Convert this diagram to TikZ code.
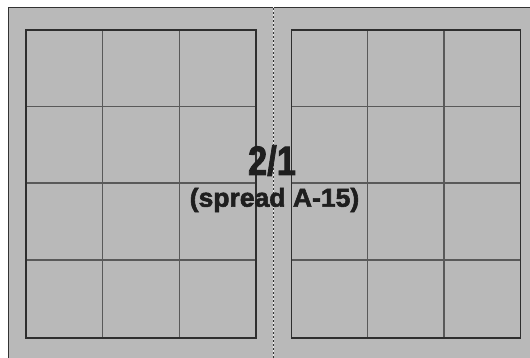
\documentclass[tikz,border=0pt]{standalone}
\usepackage{fontspec}
\setmainfont{Liberation Sans}
\newfontfamily\heavyfont[FakeBold=2.2]{Liberation Sans Bold}
\begin{document}
\begin{tikzpicture}[x=1pt,y=-1pt,
  gridline/.style={draw=black!65, line width=1.1pt},
  gridborder/.style={draw=black!82, line width=1.2pt},
  labeltext/.style={inner sep=0pt, anchor=base, text=black!88}]
\useasboundingbox (0,0) rectangle (530,358);
\clip (0,0) rectangle (530,358);
\fill[white] (0,0) rectangle (530,358);
\fill[fill={rgb,255:red,185;green,185;blue,185}, draw=black!80, line width=1pt] (8,8) rectangle (540,368);
% left grid
\foreach \x in {102.7,179.3} \draw[gridline] (\x,30) -- (\x,338);
\foreach \y in {106.5,183,260} \draw[gridline] (26,\y) -- (256,\y);
\draw[gridborder] (26,30) rectangle (256,338);
% right grid
\foreach \x in {367.7,444} \draw[gridline] (\x,30) -- (\x,338);
\foreach \y in {106.5,183,260} \draw[gridline] (291.3,\y) -- (520.3,\y);
\draw[gridborder] (291.3,30) rectangle (520.3,338);
% fold line
\draw[white!85!gray, line width=1.6pt] (273.5,7) -- (273.5,358);
\draw[black!80, line width=1pt, dash pattern=on 2pt off 2pt] (273.5,8) -- (273.5,358);
% labels
\node[labeltext, font=\heavyfont\fontsize{41}{40}\selectfont] (t1) at (272,175) {\scalebox{0.84}[1]{2/1}};
\node[labeltext, font=\heavyfont\fontsize{26}{25}\selectfont] (t2) at (274.5,206.7) {\scalebox{1.02}[1]{(spread A-15)}};
\end{tikzpicture}
\end{document}
